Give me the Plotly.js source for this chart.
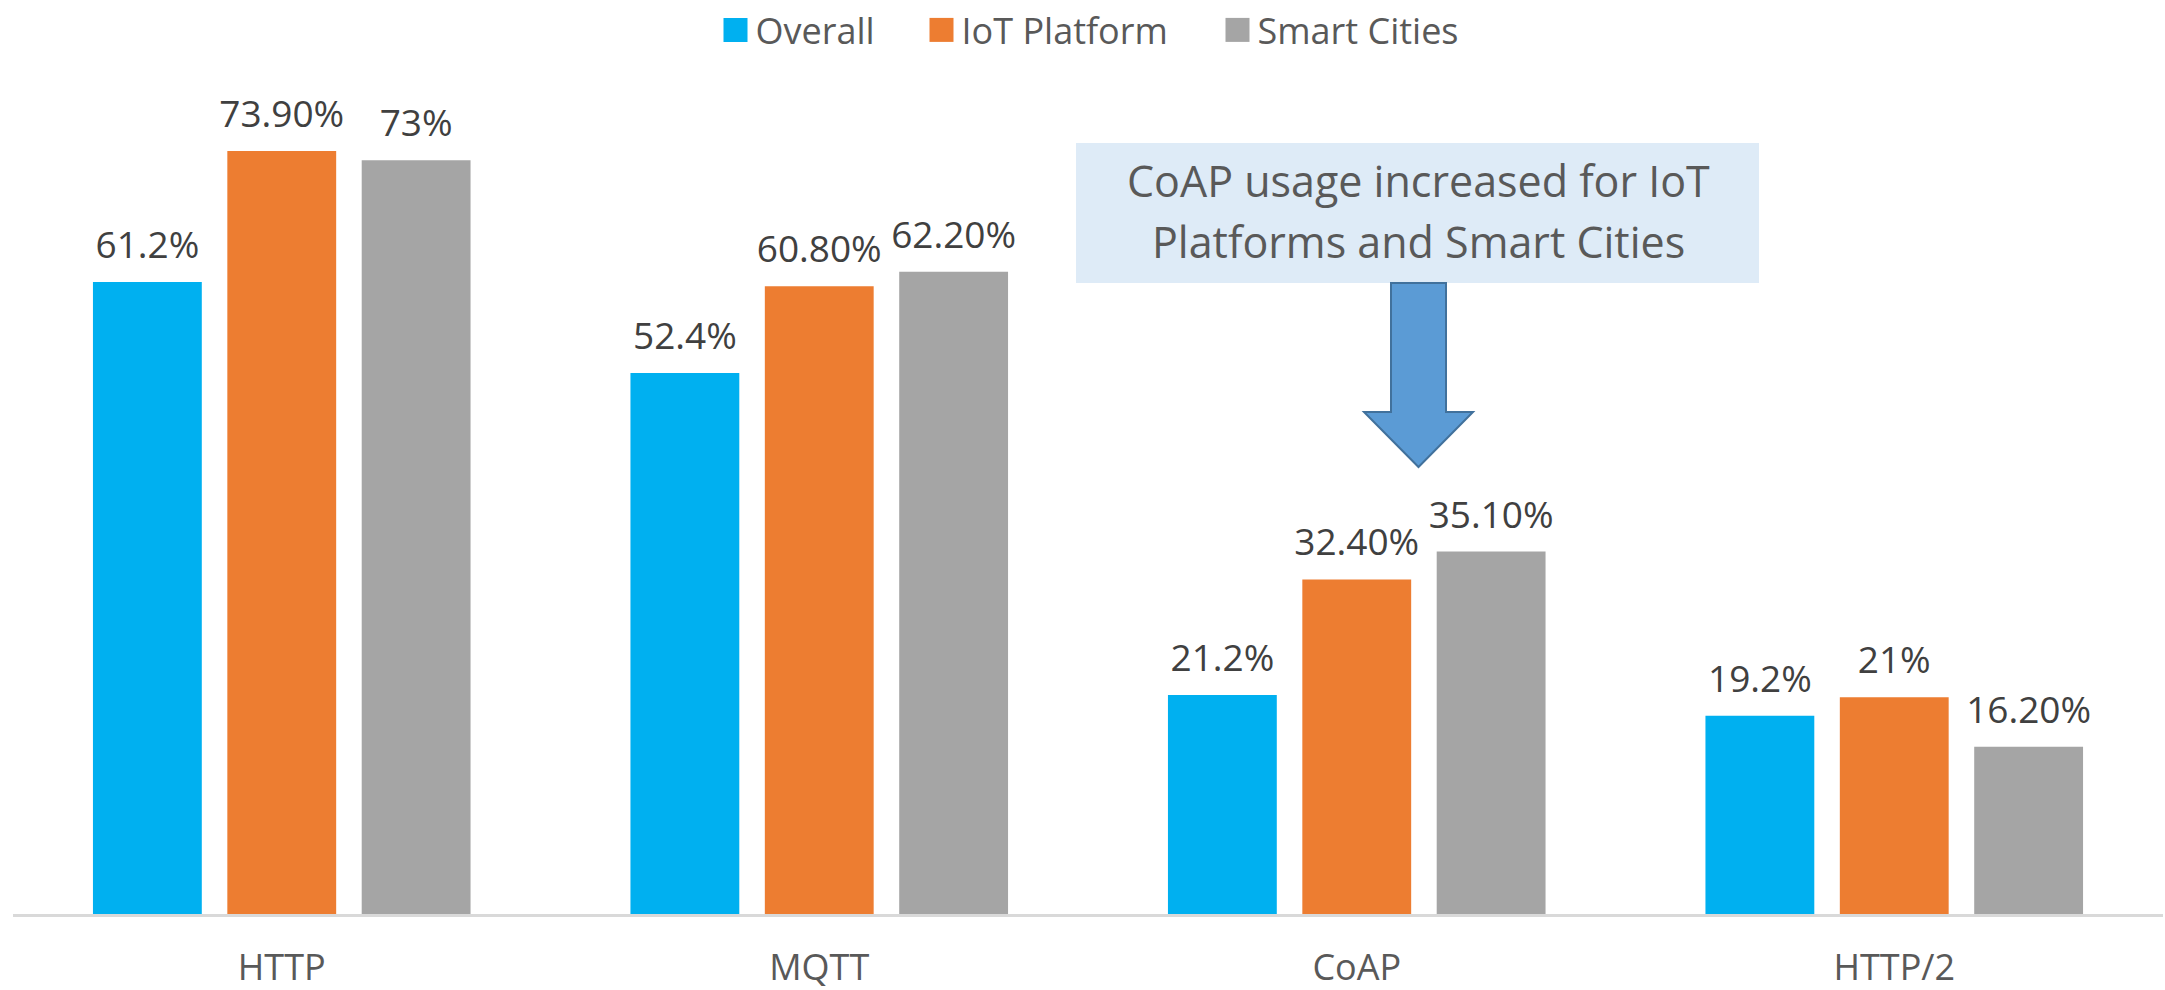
<!DOCTYPE html>
<html>
<head>
<meta charset="utf-8">
<script src="https://cdn.plot.ly/plotly-3.0.1.min.js"></script>
<style>html,body{margin:0;padding:0;background:#fff;}#chart{width:2165px;height:990px;}</style>
</head>
<body>
<div id="chart"></div>
<script>
var categories = ["HTTP", "MQTT", "CoAP", "HTTP/2"];
var seriesNames = ["Overall", "IoT Platform", "Smart Cities"];
var overallValues = [61.2, 52.4, 21.2, 19.2];
var iotPlatformValues = [73.9, 60.8, 32.4, 21.0];
var smartCitiesValues = [73.0, 62.2, 35.1, 16.2];
var overallLabels = ["61.2%", "52.4%", "21.2%", "19.2%"];
var iotPlatformLabels = ["73.90%", "60.80%", "32.40%", "21%"];
var smartCitiesLabels = ["73%", "62.20%", "35.10%", "16.20%"];
var calloutLines = ["CoAP usage increased for IoT", "Platforms and Smart Cities"];

var colors = ["#00B0F0", "#ED7D31", "#A5A5A5"];
var FONT = "Open Sans, sans-serif";
var W = 2165, H = 990;
var M = {l: 13, r: 2, t: 88, b: 76, autoexpand: false};
var PW = W - M.l - M.r, PH = H - M.t - M.b;
function px(x) { return (x - M.l) / PW; }
function py(y) { return (H - M.b - y) / PH; }

var vals = [overallValues, iotPlatformValues, smartCitiesValues];
var labs = [overallLabels, iotPlatformLabels, smartCitiesLabels];
var lw = [161, 251, 210];
var traces = seriesNames.map(function (n, i) {
  return {
    type: "bar", name: n, x: categories, y: vals[i],
    text: labs[i], textposition: "outside", constraintext: "none",
    cliponaxis: false, textfont: {family: FONT, size: 37, color: "#404040"},
    marker: {color: colors[i], line: {width: 0}},
    legendwidth: lw[i], hoverinfo: "skip"
  };
});

var arrowPts = [[1391,283],[1446,283],[1446,412],[1473,412],[1418.5,467],[1364,412],[1391,412]];
var arrowPath = arrowPts.map(function (p, i) { return (i ? "L" : "M") + px(p[0]) + "," + py(p[1]); }).join(" ") + " Z";

var layout = {
  width: W, height: H, margin: M,
  paper_bgcolor: "#fff", plot_bgcolor: "#fff",
  barmode: "group", bargap: 0.25, bargroupgap: 0.19,
  font: {family: FONT, color: "#595959"},
  showlegend: true,
  legend: {orientation: "h", x: px(1094), xanchor: "center", y: py(0), yanchor: "top",
           font: {family: FONT, size: 36, color: "#595959"}, bgcolor: "rgba(0,0,0,0)"},
  xaxis: {type: "category", showgrid: false, zeroline: false, showline: true,
          linecolor: "#D9D9D9", linewidth: 3, ticks: "", ticklabelstandoff: 20,
          tickfont: {family: FONT, size: 36, color: "#595959"}, fixedrange: true},
  yaxis: {range: [0, 80], showgrid: false, zeroline: false, showline: false,
          showticklabels: false, ticks: "", fixedrange: true},
  shapes: [
    {type: "rect", xref: "paper", yref: "paper", x0: px(1076), x1: px(1759), y0: py(283), y1: py(143),
     fillcolor: "#DEEBF7", line: {width: 0}, layer: "above"},
    {type: "path", xref: "paper", yref: "paper", path: arrowPath,
     fillcolor: "#5B9BD5", line: {color: "#41719C", width: 2}, layer: "above"}
  ],
  annotations: [
    {xref: "paper", yref: "paper", x: px(1418), y: py(181), xanchor: "center", yanchor: "middle",
     text: calloutLines[0], showarrow: false, font: {family: FONT, size: 43, color: "#595959"}},
    {xref: "paper", yref: "paper", x: px(1418), y: py(241), xanchor: "center", yanchor: "middle",
     text: calloutLines[1], showarrow: false, font: {family: FONT, size: 43, color: "#595959"}}
  ]
};

Plotly.newPlot("chart", traces, layout, {displayModeBar: false, staticPlot: true}).then(function () {
  document.querySelectorAll(".legend .legendpoints path").forEach(function (p) {
    var t = p.getAttribute("transform") || "";
    p.setAttribute("transform", t + " scale(2)");
  });
  document.querySelectorAll(".bartext").forEach(function (t) {
    var tr = t.getAttribute("transform") || "";
    t.setAttribute("transform", "translate(0,-10) " + tr);
  });
});
</script>
</body>
</html>
